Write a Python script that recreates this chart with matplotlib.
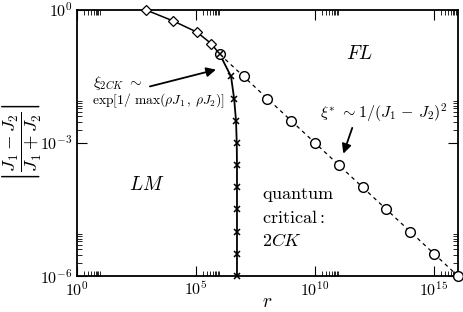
import numpy as np
import matplotlib
matplotlib.use("Agg")
import matplotlib.pyplot as plt
from matplotlib.ticker import FixedLocator, FuncFormatter, NullFormatter

plt.rcParams["mathtext.fontset"] = "cm"
plt.rcParams["font.family"] = "serif"
plt.rcParams["font.serif"] = ["DejaVu Serif"]

# diamonds: LM -> FL boundary (solid)
diamond_r = [10**2.9, 10**4.05, 10**5.04, 10**5.64, 10**6.0]
diamond_y = [10**0, 10**-0.25, 10**-0.5, 10**-0.76, 10**-1.0]

# crosses: LM -> 2CK boundary (solid)
cross_r = [10**6.0, 10**6.47, 10**6.60, 10**6.68, 10**6.71, 10**6.72,
           10**6.72, 10**6.72, 10**6.72, 10**6.72, 10**6.72]
cross_y = [10**-1.0, 10**-1.5, 10**-2.0, 10**-2.5, 10**-3.0, 10**-3.5,
           10**-4.0, 10**-4.5, 10**-5.0, 10**-5.5, 10**-6.0]

# circles: crossover scale xi* (dashed)
circle_r = [10**6, 10**7, 10**8, 10**9, 10**10, 10**11, 10**12,
            10**13, 10**14, 10**15, 10**16]
circle_y = [10**-1.0, 10**-1.5, 10**-2.0, 10**-2.5, 10**-3.0, 10**-3.5,
            10**-4.0, 10**-4.5, 10**-5.0, 10**-5.5, 10**-6.0]

x_major = [1e0, 1e5, 1e10, 1e15]
y_major = [1e-6, 1e-3, 1e0]

fig = plt.figure(figsize=(4.63, 3.12), dpi=100)
ax = fig.add_axes([0.1663, 0.1154, 0.8227, 0.8526])

ax.plot(diamond_r, diamond_y, "-", color="k", lw=1.1, zorder=2)
ax.plot(cross_r, cross_y, "-", color="k", lw=1.3, zorder=2)
ax.plot(circle_r, circle_y, "--", color="k", lw=0.9, dashes=(3, 3), zorder=2)

ax.plot(diamond_r, diamond_y, "D", mfc="white", mec="k", ms=5, mew=0.9,
        ls="none", clip_on=False, zorder=3)
ax.plot(circle_r, circle_y, "o", mfc="white", mec="k", ms=7, mew=1.0,
        ls="none", clip_on=False, zorder=3)
ax.plot(cross_r, cross_y, "x", color="k", ms=4.5, mew=1.1,
        ls="none", clip_on=False, zorder=4)

ax.set_xscale("log")
ax.set_yscale("log")
ax.set_xlim(1e0, 1e16)
ax.set_ylim(1e-6, 1e0)

ax.xaxis.set_major_locator(FixedLocator(x_major))
ax.yaxis.set_major_locator(FixedLocator(y_major))
ax.xaxis.set_minor_locator(FixedLocator([k * m for m in x_major for k in range(2, 10)]))
ax.yaxis.set_minor_locator(FixedLocator([k * m for m in y_major[:2] for k in range(2, 10)]))
ax.xaxis.set_minor_formatter(NullFormatter())
ax.yaxis.set_minor_formatter(NullFormatter())
fmt = FuncFormatter(lambda v, p: r"$10^{%d}$" % round(np.log10(v)))
ax.xaxis.set_major_formatter(fmt)
ax.yaxis.set_major_formatter(fmt)
ax.tick_params(which="both", direction="in", top=True, right=True, labelsize=11.5)
ax.tick_params(which="major", length=7, width=0.8)
ax.tick_params(which="minor", length=3.5, width=0.6)
ax.tick_params(axis="x", pad=4)
ax.tick_params(axis="y", pad=3)
for s in ax.spines.values():
    s.set_linewidth(1.3)

ax.set_xlabel(r"$r$", fontsize=14)
ax.xaxis.set_label_coords(0.5, -0.064)
ax.set_ylabel(r"$\left|\dfrac{J_1-J_2}{J_1+J_2}\right|$", fontsize=13.5)
ax.yaxis.set_label_coords(-0.088, 0.5)

ax.text(10**11.85, 10**-0.99, r"$FL$", fontsize=14, ha="center", va="center")
ax.text(10**2.94, 10**-3.95, r"$LM$", fontsize=14, ha="center", va="center")
ax.text(10**7.75, 10**-4.7,
        "$\\mathrm{quantum}$\n$\\mathrm{critical:}$\n$2CK$",
        fontsize=13, ha="left", va="center", linespacing=1.35)

ax.text(10**0.67, 10**-1.65, r"$\xi_{2CK}\ \sim$", fontsize=11, ha="left", va="center")
ax.text(10**0.62, 10**-2.04, r"$\exp[1/\ \max(\rho J_1\,,\,\rho J_2)]$",
        fontsize=9.8, ha="left", va="center")
ax.annotate("", xy=(10**5.95, 10**-1.33), xytext=(10**2.95, 10**-1.74),
            arrowprops=dict(arrowstyle="-|>", lw=1.3, color="k", mutation_scale=14))

ax.text(10**12.9, 10**-2.32, r"$\xi^{*}\ \sim 1/(J_1\,-\,J_2)^2$",
        fontsize=11.5, ha="center", va="center")
ax.annotate("", xy=(10**11.15, 10**-3.3), xytext=(10**11.6, 10**-2.6),
            arrowprops=dict(arrowstyle="-|>", lw=1.3, color="k", mutation_scale=14))

fig.savefig("out.png", dpi=100)
